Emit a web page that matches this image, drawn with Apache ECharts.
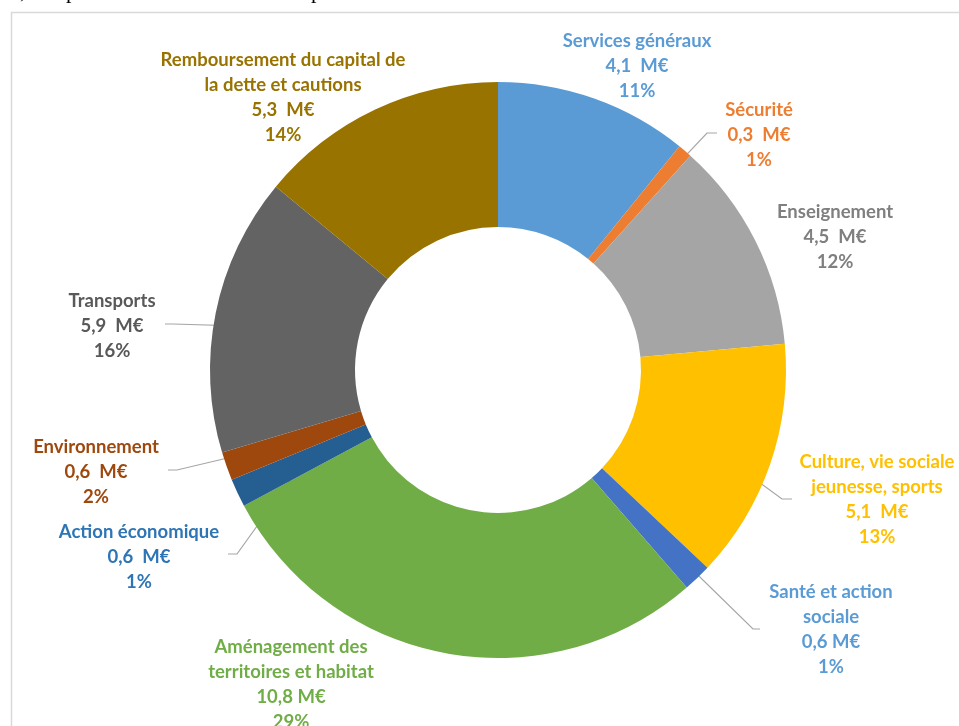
<!DOCTYPE html>
<html><head><meta charset="utf-8">
<script src="https://cdn.jsdelivr.net/npm/echarts@6/dist/echarts.min.js"></script>
<style>html,body{margin:0;padding:0;background:#fff}#c{width:959px;height:726px}</style>
</head><body><div id="c"></div>
<script>
// ---- data ----
const categories = ['Services généraux','Sécurité','Enseignement','Culture, vie sociale jeunesse, sports','Santé et action sociale','Aménagement des territoires et habitat','Action économique','Environnement','Transports','Remboursement du capital de la dette et cautions'];
const nameLines = [['Services généraux'],['Sécurité'],['Enseignement'],['Culture, vie sociale','jeunesse, sports'],['Santé et action','sociale'],['Aménagement des','territoires et habitat'],['Action économique'],['Environnement'],['Transports'],['Remboursement du capital de','la dette et cautions']];
const values = [4.1, 0.3, 4.5, 5.1, 0.6, 10.8, 0.6, 0.6, 5.9, 5.3];
const amountLabels = ['4,1  M€','0,3  M€','4,5  M€','5,1  M€','0,6 M€','10,8 M€','0,6  M€','0,6  M€','5,9  M€','5,3  M€'];
const percentLabels = ['11%','1%','12%','13%','1%','29%','1%','2%','16%','14%'];

// ---- styles / layout ----
const sliceColors = ['#5B9BD5','#ED7D31','#A5A5A5','#FFC000','#4472C4','#70AD47','#255E91','#9E480E','#636363','#997300'];
const labelColors = ['#5B9BD5','#ED7D31','#7F7F7F','#FFC000','#5B9BD5','#70AD47','#2E75B6','#9E480E','#595959','#997300'];
const CX = 498, CY = 370, R0 = 143, R1 = 288;
const labelPos = [[637,66],[759,135],[835,237],[877,500],[831,630],[291,685],[139,557],[96,472],[112,326],[283,98]];
const leaderEnds = [null, [[707,133],[717,133]], null, [[782,499],[792,499]], [[753,629],[760,629]], null, [[237,554],[228,554]], [[177,470],[168,470]], [[173,324],[165,324]], null];

const total = values.reduce((a,b)=>a+b,0);
function midAngle(i){
  let s = 0; for (let k=0;k<i;k++) s += values[k];
  return (s + values[i]/2) / total * 2 * Math.PI;
}

const data = values.map((v,i)=>({
  name: categories[i], value: v,
  itemStyle: {color: sliceColors[i]},
  label: {color: labelColors[i]},
  labelLine: {show: !!leaderEnds[i]}
}));

const chart = echarts.init(document.getElementById('c'), null, {renderer:'canvas'});
chart.setOption({
  backgroundColor: '#fff',
  animation: false,
  graphic: [
    {type:'rect', shape:{x:11.5, y:12.5, width:1000, height:800}, style:{fill:'none', stroke:'#D9D9D9', lineWidth:1.5}, z:-10},
    {type:'text', x:20, y:-8, style:{text:',', font:'22px "Liberation Serif"', fill:'#000', verticalAlign:'middle'}},
    {type:'text', x:66, y:-8, style:{text:'p', font:'22px "Liberation Serif"', fill:'#000', verticalAlign:'middle'}},
    {type:'text', x:311, y:-8, style:{text:'p', font:'22px "Liberation Serif"', fill:'#000', verticalAlign:'middle'}}
  ],
  series: [{
    type: 'pie',
    center: [CX, CY],
    radius: [R0, R1],
    startAngle: 90,
    clockwise: true,
    avoidLabelOverlap: false,
    label: {
      show: true,
      position: 'outside',
      fontFamily: 'Lato',
      fontWeight: 'bold',
      fontSize: 18.5,
      lineHeight: 25,
      formatter: p => nameLines[p.dataIndex].concat([amountLabels[p.dataIndex], percentLabels[p.dataIndex]]).join('\n')
    },
    labelLine: {show: true, length: 10, length2: 10, lineStyle: {color: '#A6A6A6', width: 1.2}},
    labelLayout: function (p) {
      const i = p.dataIndex;
      const res = {x: labelPos[i][0], y: labelPos[i][1], align: 'center', verticalAlign: 'middle'};
      if (leaderEnds[i]) {
        const a = midAngle(i), r = (R0 + R1) / 2;
        res.labelLinePoints = [[CX + r*Math.sin(a), CY - r*Math.cos(a)], leaderEnds[i][0], leaderEnds[i][1]];
      }
      return res;
    },
    data: data
  }]
});
</script>
</body></html>
